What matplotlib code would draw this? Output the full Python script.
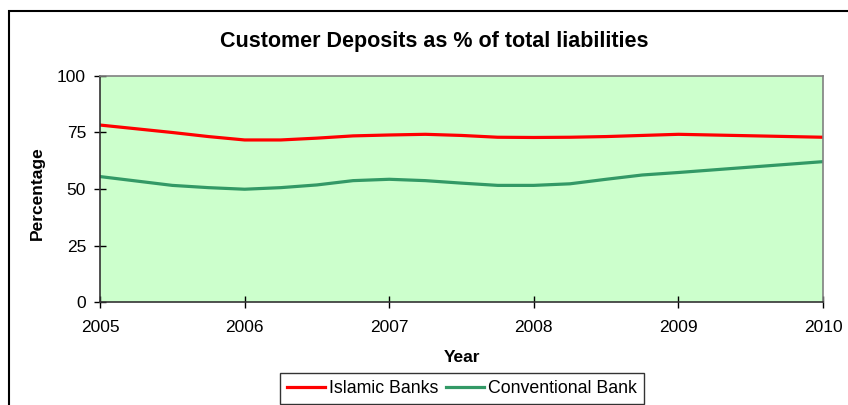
import numpy as np
import matplotlib.pyplot as plt
from matplotlib.patches import Rectangle

plt.rcParams['font.family'] = ['Liberation Sans', 'DejaVu Sans']

# quarterly readings (2009-2010 has only the end points)
years = [2005, 2005.5, 2005.75, 2006, 2006.25, 2006.5, 2006.75, 2007, 2007.25,
         2007.5, 2007.75, 2008, 2008.25, 2008.5, 2008.75, 2009, 2010]
islamic = [78.3, 75.0, 73.2, 71.7, 71.7, 72.5, 73.5, 73.9, 74.2,
           73.7, 72.9, 72.8, 72.9, 73.2, 73.7, 74.2, 72.9]
conventional = [55.5, 51.6, 50.6, 49.9, 50.6, 51.8, 53.7, 54.3, 53.7,
                52.6, 51.6, 51.6, 52.3, 54.3, 56.2, 57.3, 62.1]

year_ticks = [2005, 2006, 2007, 2008, 2009, 2010]
pct_ticks = [0, 25, 50, 75, 100]

W, H = 848, 405
fig = plt.figure(figsize=(W / 100, H / 100), dpi=100)

# chart frame
fig.patches.append(Rectangle((9 / W, -0.05), 1.0, 1 - 11 / H + 0.05,
                             transform=fig.transFigure, fill=False,
                             edgecolor='black', linewidth=1.5))

ax = fig.add_axes([100 / W, 1 - 302 / H, 723 / W, 226 / H])
ax.set_facecolor('#CCFFCC')

ax.plot(years, islamic, color='#FF0000', linewidth=2.3, label='Islamic Banks')
ax.plot(years, conventional, color='#339966', linewidth=2.3,
        label='Conventional Bank')

ax.set_xlim(2005, 2010)
ax.set_ylim(0, 100)
ax.set_xticks(year_ticks)
ax.set_yticks(pct_ticks)
ax.tick_params(direction='inout', length=8, width=1, labelsize=12.5)
ax.tick_params(axis='x', pad=9)
ax.tick_params(axis='y', pad=6)

for side in ['left', 'bottom']:
    ax.spines[side].set_color('#333333')
    ax.spines[side].set_linewidth(1.2)
for side in ['top', 'right']:
    ax.spines[side].set_color('#808080')
    ax.spines[side].set_linewidth(1.2)

fig.text(434.5 / W, 1 - 41 / H, 'Customer Deposits as % of total liabilities',
         ha='center', va='center', fontsize=15.5, fontweight='bold')
fig.text(462 / W, 1 - 358 / H, 'Year', ha='center', va='center',
         fontsize=12.5, fontweight='bold')
fig.text(37 / W, 1 - 193 / H, 'Percentage', ha='center', va='center',
         rotation=90, fontsize=12.5, fontweight='bold')

leg = fig.legend(loc='center', bbox_to_anchor=(462 / W, 1 - 388.5 / H),
                 ncol=2, fontsize=12.8, frameon=True, fancybox=False,
                 handlelength=2.15, handletextpad=0.2, columnspacing=0.45,
                 borderpad=0.42, borderaxespad=0)
leg.get_frame().set_edgecolor('black')
leg.get_frame().set_linewidth(1.0)

fig.savefig('out.png', dpi=100)
